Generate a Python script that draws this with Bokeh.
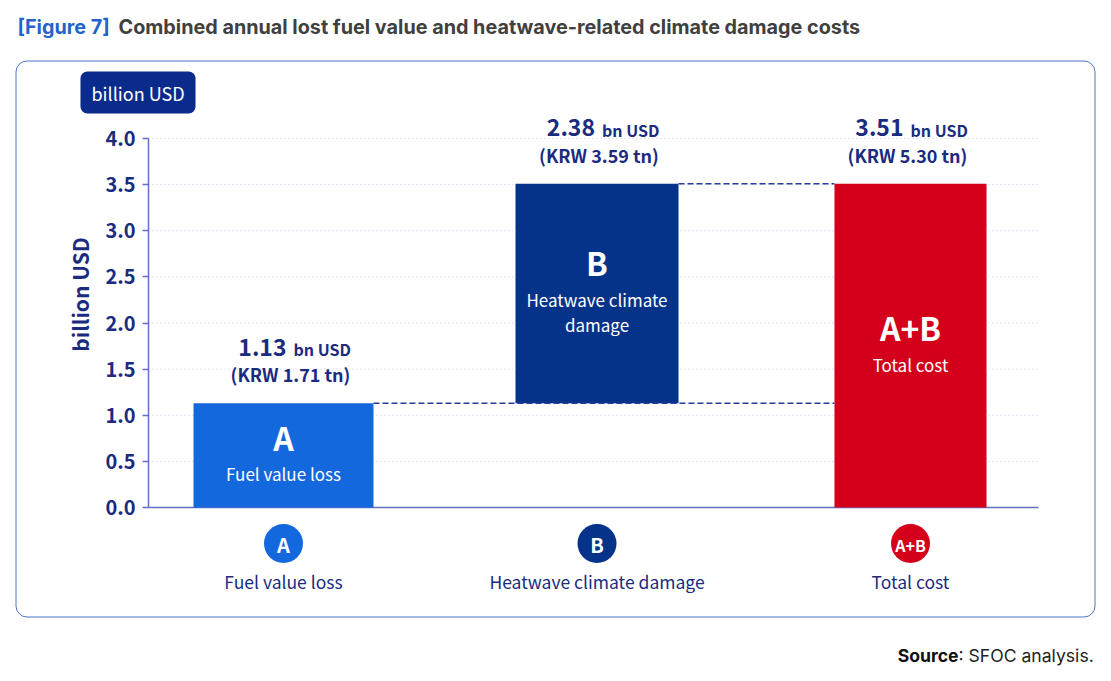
import numpy as np
from bokeh.plotting import figure
from bokeh.models import ColumnDataSource, Label, FixedTicker, Range1d, BoxAnnotation
from bokeh.embed import file_html
from bokeh.resources import INLINE
from bokeh.core.properties import value

# ---------------- data ----------------
codes = ["A", "B", "A+B"]
categories = ["Fuel value loss", "Heatwave climate damage", "Total cost"]
bar_texts = [["Fuel value loss"], ["Heatwave climate", "damage"], ["Total cost"]]
usd_bn = [1.13, 2.38, 3.51]
krw_tn = [1.71, 3.59, 5.30]
y_ticks = [0.0, 0.5, 1.0, 1.5, 2.0, 2.5, 3.0, 3.5, 4.0]
title_tag = "[Figure 7]"
title_text = "Combined annual lost fuel value and heatwave-related climate damage costs"

# ---------------- style / layout ----------------
colors = ["#1368dd", "#05338a", "#d4001b"]
bar_widths = [0.574, 0.52, 0.485]
label_shift = [7, 2, -3]
NAVY = "#1b2b80"
AXIS = "#6470c4"
FONT = "Noto Sans CJK KR"
TFONT = "Inter"

ORG = 0                           # page position of the figure's top-left corner
W, H = 1104, 672
PXX, PXY = 313.5, 92.25           # screen px per data unit
CX1, BASE_Y = 283, 507            # page px of first bar centre and of y = 0


def dx(px):  # page x (px) -> data x, for decorations
    return 1 + (px - CX1) / PXX


def dy(py):  # page y (px) -> data y, for decorations
    return (BASE_Y - py) / PXY


X0, X1 = dx(ORG), dx(ORG + W)
Y1, Y0 = dy(ORG), dy(ORG + H)
AXIS_X = dx(148)
GRID_END = dx(1038)

xs = list(range(1, len(codes) + 1))
bottoms = [0.0, usd_bn[0], 0.0]
tops = [usd_bn[0], usd_bn[0] + usd_bn[1], usd_bn[2]]
mids = [(b + t) / 2 for b, t in zip(bottoms, tops)]

p = figure(width=W, height=H, output_backend="svg", toolbar_location=None,
           x_range=Range1d(X0, X1), y_range=Range1d(Y0, Y1),
           x_axis_location=None, min_border=0,
           background_fill_color="white", border_fill_color="white",
           outline_line_color=None)
p.xgrid.visible = False
p.ygrid.visible = False

# rounded frame box
p.add_layout(BoxAnnotation(left=dx(15.5), right=dx(1094.5), top=dy(60.5), bottom=dy(616.5),
                           fill_color=None, line_color="#4c76c8", line_alpha=1.0,
                           line_width=1, border_radius=11, level="underlay"))

# dotted grid lines (from the axis to the right end)
grid_y = [t for t in y_ticks if t > 0]
p.segment(x0=[AXIS_X] * len(grid_y), y0=grid_y, x1=[GRID_END] * len(grid_y), y1=grid_y,
          line_color="#c5cbe6", line_width=1, line_dash="1 3")

# y axis, drawn at a fixed location inside the frame
ya = p.yaxis[0]
ya.fixed_location = AXIS_X
ya.ticker = FixedTicker(ticks=y_ticks)
ya.bounds = (0, 4)
ya.axis_line_color = AXIS
ya.axis_line_width = 1.5
ya.major_tick_line_color = AXIS
ya.major_tick_line_width = 1.5
ya.major_tick_out = 6
ya.major_tick_in = 0
ya.minor_tick_line_color = None
ya.major_label_standoff = 7
ya.major_label_text_font = FONT
ya.major_label_text_font_size = "20px"
ya.major_label_text_font_style = "bold"
ya.major_label_text_color = NAVY
ya.major_label_overrides = {t: f"{t:.1f}" for t in y_ticks}

# baseline
p.segment(x0=[AXIS_X], y0=[0], x1=[GRID_END], y1=[0], line_color=AXIS, line_width=1.5)

# bars
src = ColumnDataSource(dict(x=xs, bottom=bottoms, top=tops, w=bar_widths, color=colors))
p.vbar(x="x", width="w", bottom="bottom", top="top", fill_color="color",
       line_color=None, source=src)

# dashed connectors
p.segment(x0=[xs[0] + bar_widths[0] / 2, xs[1] + bar_widths[1] / 2],
          y0=[tops[0], tops[1]],
          x1=[xs[2] - bar_widths[2] / 2, xs[2] - bar_widths[2] / 2],
          y1=[tops[0], tops[1]],
          line_color="#2b3b9c", line_width=1.5, line_dash="6 3")

for i in range(len(codes)):
    # value labels above bars
    p.text(x=[xs[i]], y=[tops[i]], text=[f"{usd_bn[i]:.2f}"], x_offset=label_shift[i] - 4,
           y_offset=-56, text_align="right", text_baseline="middle",
           text_font=value(FONT), text_font_size="23px", text_font_style="bold",
           text_color=NAVY)
    p.text(x=[xs[i]], y=[tops[i]], text=["bn USD"], x_offset=label_shift[i] + 3,
           y_offset=-54, text_align="left", text_baseline="middle",
           text_font=value(FONT), text_font_size="16px", text_font_style="bold",
           text_color=NAVY)
    p.text(x=[xs[i]], y=[tops[i]], text=[f"(KRW {krw_tn[i]:.2f} tn)"],
           x_offset=label_shift[i], y_offset=-29, text_align="center",
           text_baseline="middle", text_font=value(FONT), text_font_size="18px",
           text_font_style="bold", text_color=NAVY)

    # texts inside bars
    n = len(bar_texts[i])
    block = 37 + 25 * (n - 1)
    p.text(x=[xs[i]], y=[mids[i]], text=[codes[i]], y_offset=-block / 2,
           text_align="center", text_baseline="middle", text_font=value(FONT),
           text_font_size="32px", text_font_style="bold", text_color="white")
    for j, line in enumerate(bar_texts[i]):
        p.text(x=[xs[i]], y=[mids[i]], text=[line], y_offset=-block / 2 + 37 + 25 * j,
               text_align="center", text_baseline="middle", text_font=value(FONT),
               text_font_size="17px", text_color="white")

# category markers under the axis
p.scatter(x=xs, y=[-36 / PXY] * len(xs), size=39, marker="circle",
          fill_color=colors, line_color=None)
p.text(x=xs, y=[0] * len(xs), text=codes, y_offset=37, text_align="center",
       text_baseline="middle", text_font=value(FONT),
       text_font_size=["20px", "20px", "16px"], text_font_style="bold",
       text_color="white")
p.text(x=xs, y=[0] * len(xs), text=categories, y_offset=74, text_align="center",
       text_baseline="middle", text_font=value(FONT), text_font_size="17.5px",
       text_color=NAVY)

# y axis title (rotated) and unit badge
p.add_layout(Label(x=dx(79), y=dy(294), text="billion USD",
                   angle=np.pi / 2, text_align="center", text_baseline="middle",
                   text_font=FONT, text_font_size="21px", text_font_style="bold",
                   text_color=NAVY))
p.add_layout(Label(x=dx(137.5), y=dy(92), text="billion USD",
                   text_align="center", text_baseline="middle", text_font=FONT,
                   text_font_size="18px", text_color="white",
                   background_fill_color="#0b2b8c", border_radius=7, padding=(11, 8)))

# title and source
p.add_layout(Label(x=dx(17), y=dy(26), text=title_tag, text_align="left",
                   text_baseline="middle", text_font=TFONT, text_font_size="19.8px",
                   text_font_style="bold", text_color="#2463c9"))
p.add_layout(Label(x=dx(118), y=dy(26), text=title_text, text_align="left",
                   text_baseline="middle", text_font=TFONT, text_font_size="19.8px",
                   text_font_style="bold", text_color="#404040"))
p.add_layout(Label(x=dx(958), y=dy(655), text="Source", text_align="right",
                   text_baseline="middle", text_font=TFONT, text_font_size="17.6px",
                   text_font_style="bold", text_color="#111111"))
p.add_layout(Label(x=dx(958), y=dy(655), text=": SFOC analysis.", text_align="left",
                   text_baseline="middle", text_font=TFONT, text_font_size="17.6px",
                   text_color="#222222"))

open("out.html", "w").write(file_html(p, INLINE))
